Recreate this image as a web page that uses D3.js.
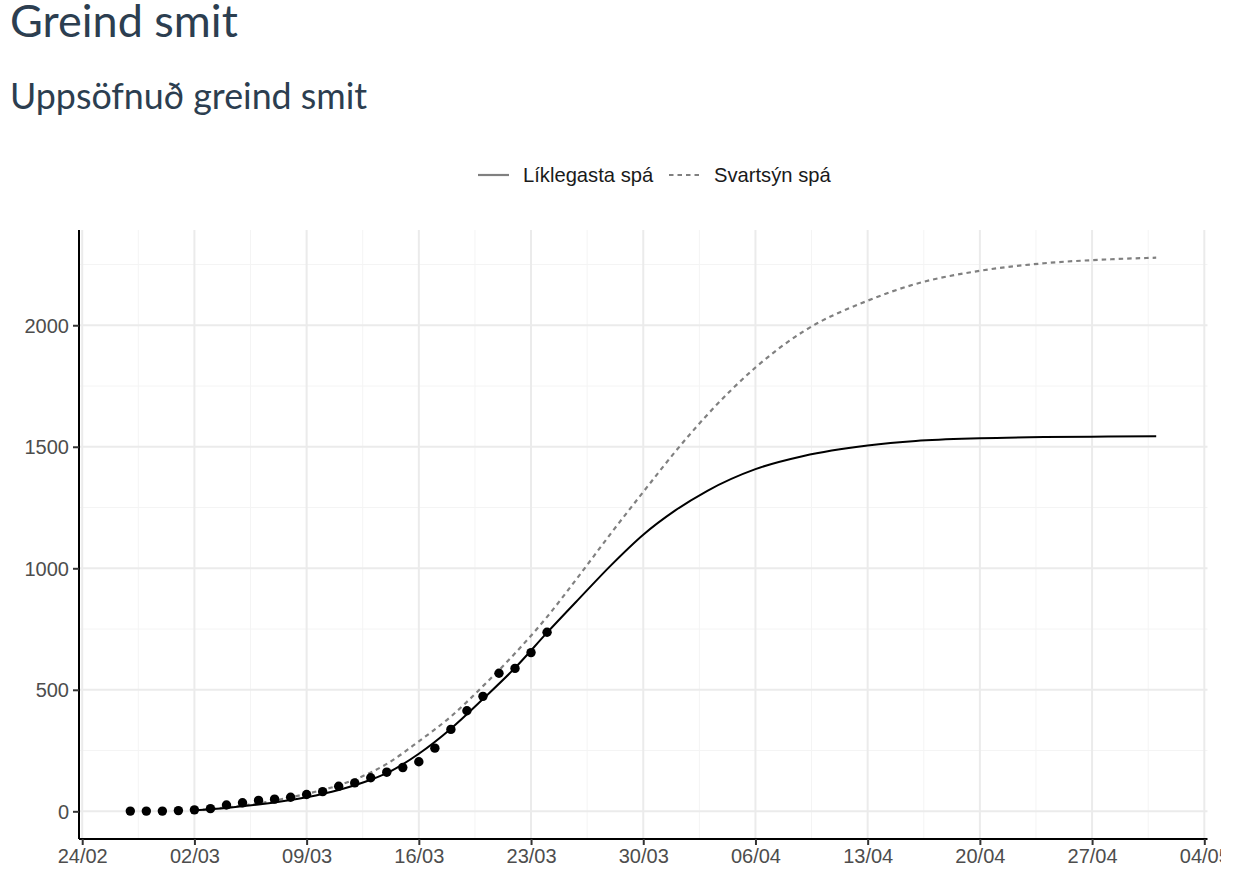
<!DOCTYPE html>
<html>
<head>
<meta charset="utf-8">
<script src="https://cdn.jsdelivr.net/npm/d3@7"></script>
<style>
  html, body { margin: 0; padding: 0; background: #fff; }
  svg { display: block; }
</style>
</head>
<body>
<svg id="chart" width="1221" height="884"></svg>
<script>
// ---- Data ----
const titleText = "Greind smit";
const subtitleText = "Uppsöfnuð greind smit";
const seriesNames = ["Líklegasta spá", "Svartsýn spá"];

const obsDates = ["2020-02-27","2020-02-28","2020-02-29","2020-03-01","2020-03-02","2020-03-03","2020-03-04",
  "2020-03-05","2020-03-06","2020-03-07","2020-03-08","2020-03-09","2020-03-10","2020-03-11","2020-03-12",
  "2020-03-13","2020-03-14","2020-03-15","2020-03-16","2020-03-17","2020-03-18","2020-03-19","2020-03-20",
  "2020-03-21","2020-03-22","2020-03-23","2020-03-24"];
const obsValues = [1,1,1,3,6,11,26,35,45,50,58,69,81,103,117,138,161,180,204,260,337,414,473,568,588,653,737];

const fitDates = ["2020-03-02","2020-03-04","2020-03-06","2020-03-09","2020-03-11","2020-03-13","2020-03-14",
  "2020-03-16","2020-03-18","2020-03-20","2020-03-22","2020-03-24","2020-03-26","2020-03-28","2020-03-30",
  "2020-04-01","2020-04-03","2020-04-06","2020-04-09","2020-04-13","2020-04-16","2020-04-20","2020-04-24",
  "2020-04-28","2020-05-01"];
const likelyValues = [4,14,28,58,88,130,157,237,340,462,590,735,875,1013,1138,1238,1319,1408,1462,1505,1524,1535,1540,1542,1543];
const worstValues  = [4,16,33,72,107,160,195,288,390,515,650,800,970,1145,1314,1480,1632,1826,1975,2101,2170,2224,2255,2271,2278];

const yTicks = [0, 500, 1000, 1500, 2000];

// ---- Layout ----
const svg = d3.select("#chart");
const plot = { left: 79, right: 1207.5, top: 230, bottom: 839 };
const parse = d3.utcParse("%Y-%m-%d");

const obs = obsDates.map((d, i) => ({ date: parse(d), value: obsValues[i] }));
const likely = fitDates.map((d, i) => ({ date: parse(d), value: likelyValues[i] }));
const worst = fitDates.map((d, i) => ({ date: parse(d), value: worstValues[i] }));

const allDates = obs.concat(likely).map(d => +d.date);
const [xmin, xmax] = d3.extent(allDates);
const xpad = (xmax - xmin) * 0.05;
const x = d3.scaleUtc().domain([new Date(xmin - xpad), new Date(xmax + xpad)]).range([plot.left, plot.right]);

const ymax = d3.max(obs.concat(likely, worst), d => d.value);
const ypad = ymax * 0.05;
const y = d3.scaleLinear().domain([-ypad, ymax + ypad]).range([plot.bottom, plot.top]);

// x ticks: weekly Mondays
const xTicks = d3.utcMonday.range(new Date(Date.UTC(2020,1,24)), new Date(Date.UTC(2020,4,5)));
const xMinor = xTicks.slice(0, -1).map((t, i) => new Date((+t + +xTicks[i+1]) / 2));
const yMinor = [250, 750, 1250, 1750, 2250];

// ---- Titles ----
svg.append("text").attr("x", 10).attr("y", 37).text(titleText)
  .attr("font-family", "Lato").attr("font-size", 45).attr("fill", "#2c3e50");
svg.append("text").attr("x", 10).attr("y", 109).text(subtitleText)
  .attr("font-family", "Lato").attr("font-size", 35.8).attr("fill", "#2c3e50");

// ---- Grid ----
const grid = svg.append("g");
grid.selectAll(".yminor").data(yMinor).join("line")
  .attr("x1", plot.left).attr("x2", plot.right).attr("y1", d => y(d)).attr("y2", d => y(d))
  .attr("stroke", "#f4f4f4").attr("stroke-width", 1);
grid.selectAll(".xminor").data(xMinor).join("line")
  .attr("y1", plot.top).attr("y2", plot.bottom).attr("x1", d => x(d)).attr("x2", d => x(d))
  .attr("stroke", "#f4f4f4").attr("stroke-width", 1);
grid.selectAll(".ymajor").data(yTicks).join("line")
  .attr("x1", plot.left).attr("x2", plot.right).attr("y1", d => y(d)).attr("y2", d => y(d))
  .attr("stroke", "#ebebeb").attr("stroke-width", 2);
grid.selectAll(".xmajor").data(xTicks).join("line")
  .attr("y1", plot.top).attr("y2", plot.bottom).attr("x1", d => x(d)).attr("x2", d => x(d))
  .attr("stroke", "#ebebeb").attr("stroke-width", 2);

// ---- Lines ----
const line = d3.line().x(d => x(d.date)).y(d => y(d.value)).curve(d3.curveMonotoneX);
svg.append("path").datum(worst).attr("d", line)
  .attr("fill", "none").attr("stroke", "#808080").attr("stroke-width", 2.2)
  .attr("stroke-dasharray", "4.5,4");
svg.append("path").datum(likely).attr("d", line)
  .attr("fill", "none").attr("stroke", "#000").attr("stroke-width", 2);

// ---- Points ----
svg.append("g").selectAll("circle").data(obs).join("circle")
  .attr("cx", d => x(d.date)).attr("cy", d => y(d.value)).attr("r", 4.7).attr("fill", "#000");

// ---- Axes ----
const yAxis = svg.append("g").attr("transform", `translate(${plot.left},0)`)
  .call(d3.axisLeft(y).tickValues(yTicks).tickFormat(d3.format("d")).tickSize(6).tickPadding(4).tickSizeOuter(0));
const xAxis = svg.append("g").attr("transform", `translate(0,${plot.bottom})`)
  .call(d3.axisBottom(x).tickValues(xTicks).tickFormat(d3.utcFormat("%d/%m")).tickSize(6).tickPadding(4).tickSizeOuter(0));
[yAxis, xAxis].forEach(a => {
  a.select(".domain").attr("stroke", "#000").attr("stroke-width", 2);
  a.selectAll(".tick line").attr("stroke", "#333").attr("stroke-width", 2);
  a.selectAll(".tick text").attr("fill", "#4d4d4d")
    .attr("font-family", "Liberation Sans, Arial, sans-serif").attr("font-size", 20);
});
yAxis.select(".domain").attr("d", `M0,${plot.top}V${plot.bottom}`);
xAxis.select(".domain").attr("d", `M${plot.left},0H${plot.right}`);
yAxis.selectAll(".tick text").attr("dy", "0.34em");

// ---- Legend ----
const legend = svg.append("g").attr("font-family", "Liberation Sans, Arial, sans-serif").attr("font-size", 20.2);
const legendItems = [
  { name: seriesNames[0], x: 478, dash: null },
  { name: seriesNames[1], x: 669, dash: "4.5,4" }
];
legendItems.forEach(it => {
  legend.append("line").attr("x1", it.x).attr("x2", it.x + 31).attr("y1", 175).attr("y2", 175)
    .attr("stroke", "#808080").attr("stroke-width", 2.2).attr("stroke-dasharray", it.dash);
  legend.append("text").attr("x", it.x + 45).attr("y", 182).text(it.name).attr("fill", "#1a1a1a");
});
</script>
</body>
</html>
